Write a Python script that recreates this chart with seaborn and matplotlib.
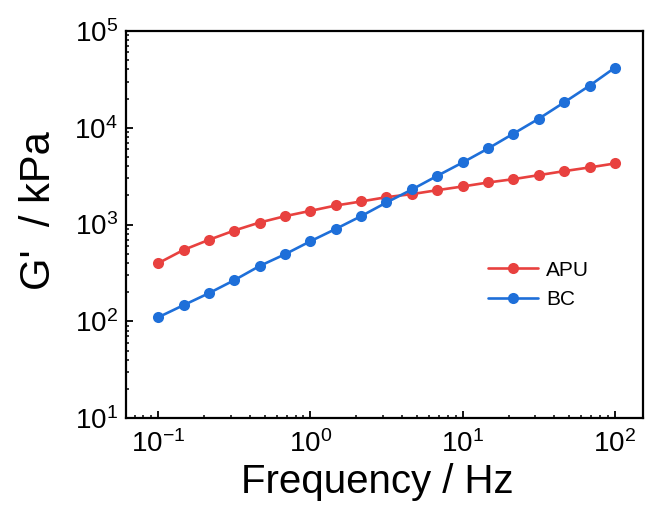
import numpy as np
import pandas as pd
import matplotlib
matplotlib.use("Agg")
import matplotlib.pyplot as plt
import matplotlib.ticker as mticker
import seaborn as sns

# Oscillatory frequency sweep: storage modulus G' (kPa)
freq = [0.1, 0.147, 0.215, 0.316, 0.464, 0.681, 1.0, 1.47, 2.15, 3.16,
        4.64, 6.81, 10.0, 14.7, 21.5, 31.6, 46.4, 68.1, 100.0]
g_apu = [398, 547, 694, 867, 1049, 1220, 1385, 1573, 1730, 1918,
         2061, 2265, 2473, 2719, 2942, 3238, 3561, 3890, 4275]
g_bc = [110, 147, 195, 266, 373, 493, 672, 902, 1220, 1690,
        2301, 3186, 4375, 6109, 8670, 12390, 18280, 27190, 41780]
samples = ["APU", "BC"]
colors = ["#E8413F", "#1E6FD9"]

df = pd.DataFrame({
    "freq": freq * 2,
    "G": g_apu + g_bc,
    "sample": [samples[0]] * len(freq) + [samples[1]] * len(freq),
})

sns.set_theme(style="ticks")
plt.rcParams["font.family"] = ["Liberation Sans", "DejaVu Sans"]
plt.rcParams["mathtext.fontset"] = "custom"
plt.rcParams["mathtext.rm"] = "Liberation Sans"
plt.rcParams["mathtext.it"] = "Liberation Sans:italic"
plt.rcParams["mathtext.bf"] = "Liberation Sans:bold"
for key in ["text.color", "axes.labelcolor", "xtick.color", "ytick.color",
            "axes.edgecolor"]:
    plt.rcParams[key] = "black"

fig = plt.figure(figsize=(6.47, 5.15), dpi=100)
ax = fig.add_axes([0.195, 0.188, 0.799, 0.752])

sns.lineplot(data=df, x="freq", y="G", hue="sample", palette=colors,
             marker="o", markersize=8, markeredgewidth=0, linewidth=1.9,
             ax=ax)

ax.set_xscale("log")
ax.set_yscale("log")
ax.set_xlim(0.0617, 153)
ax.set_ylim(10, 1e5)

ax.xaxis.set_major_locator(mticker.LogLocator(base=10, numticks=10))
ax.yaxis.set_major_locator(mticker.LogLocator(base=10, numticks=10))
ax.xaxis.set_minor_locator(mticker.LogLocator(base=10, subs=np.arange(2, 10), numticks=20))
ax.yaxis.set_minor_locator(mticker.LogLocator(base=10, subs=np.arange(2, 10), numticks=20))
ax.xaxis.set_minor_formatter(mticker.NullFormatter())
ax.yaxis.set_minor_formatter(mticker.NullFormatter())

ax.tick_params(which="major", direction="in", length=5, width=1.3,
               labelsize=20)
ax.tick_params(axis="x", which="major", pad=9)
ax.tick_params(axis="y", which="major", pad=6)
ax.tick_params(which="minor", direction="in", length=2.5, width=1.1)
ax.tick_params(top=False, right=False, which="both")

for sp in ax.spines.values():
    sp.set_linewidth(1.6)
    sp.set_color("black")

ax.set_xlabel("Frequency / Hz", fontsize=29, labelpad=3)
ax.set_ylabel("G'  / kPa", fontsize=30, labelpad=11)
ax.xaxis.label.set_x(0.4855)
ax.yaxis.label.set_y(0.535)

leg = ax.legend(loc="center left", bbox_to_anchor=(0.663, 0.344),
                frameon=False, fontsize=15, handlelength=2.4,
                handletextpad=0.4, labelspacing=0.5)

fig.savefig("out.png", dpi=100)
